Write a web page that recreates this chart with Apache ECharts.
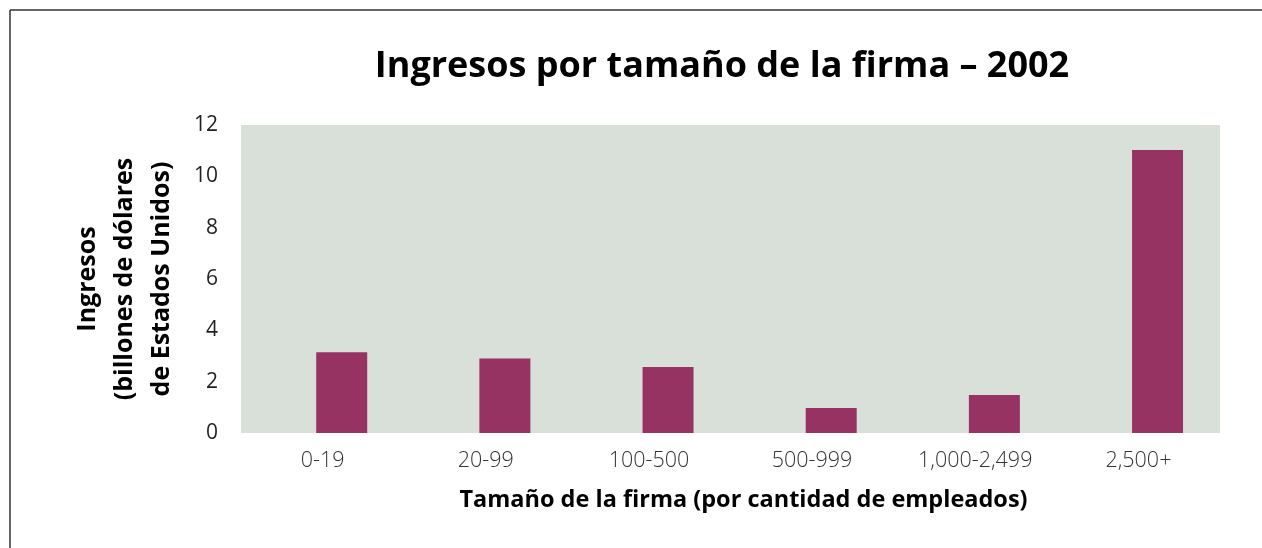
<!DOCTYPE html>
<html>
<head>
<meta charset="utf-8">
<script src="https://cdn.jsdelivr.net/npm/echarts@6/dist/echarts.min.js"></script>
<style>
  html, body { margin: 0; padding: 0; background: #fff; }
  #chart { width: 1262px; height: 548px; }
</style>
</head>
<body>
<div id="chart"></div>
<script>
const categories = ['0-19', '20-99', '100-500', '500-999', '1,000-2,499', '2,500+']
const revenue = [3.15, 2.9, 2.57, 0.97, 1.48, 11.03]
const emptySlot = [null, null, null, null, null, null]
const yTicks = { min: 0, max: 12, interval: 2 }

const font = '"Open Sans", "Noto Sans", sans-serif'

let myChart = echarts.init(document.getElementById('chart'))
myChart.setOption({
  animation: false,
  title: {
    text: 'Ingresos por tamaño de la firma – 2002',
    left: 717,
    textAlign: 'center',
    top: 44,
    textStyle: {
      fontFamily: font,
      fontSize: 36,
      fontWeight: 'bold',
      color: '#000'
    }
  },
  graphic: [
    { type: 'line', shape: { x1: 10, y1: 10, x2: 1262, y2: 10 }, style: { stroke: '#333', lineWidth: 1.5 } },
    { type: 'line', shape: { x1: 10, y1: 10, x2: 10, y2: 548 }, style: { stroke: '#333', lineWidth: 1.5 } }
  ],
  grid: {
    left: 241,
    right: 42,
    top: 125,
    bottom: 115,
    show: true,
    backgroundColor: '#d9e0da',
    borderWidth: 0
  },
  xAxis: {
    type: 'category',
    data: categories,
    name: 'Tamaño de la firma (por cantidad de empleados)',
    nameLocation: 'middle',
    nameGap: 55,
    nameTextStyle: {
      fontFamily: font,
      fontSize: 23.5,
      fontWeight: 'bold',
      color: '#000',
      padding: [0, 0, 0, 26]
    },
    axisLine: { show: false },
    axisTick: { show: false },
    axisLabel: {
      margin: 17,
      fontFamily: font,
      fontSize: 21.5,
      fontWeight: 300,
      color: '#333'
    },
    splitLine: { show: false }
  },
  yAxis: {
    type: 'value',
    min: yTicks.min,
    max: yTicks.max,
    interval: yTicks.interval,
    name: 'Ingresos\n(billones de dólares\nde Estados Unidos)',
    nameLocation: 'middle',
    nameRotate: 90,
    nameGap: 61,
    nameTextStyle: {
      fontFamily: font,
      fontSize: 25,
      fontWeight: 'bold',
      color: '#000',
      lineHeight: 37
    },
    axisLine: { show: false },
    axisTick: { show: false },
    axisLabel: {
      margin: 23,
      fontFamily: font,
      fontSize: 21,
      color: '#231f20'
    },
    splitLine: { show: false }
  },
  series: [{
    type: 'bar',
    name: 'spacer',
    data: emptySlot,
    barWidth: 51,
    barGap: '-25%',
    silent: true
  }, {
    type: 'bar',
    name: 'Ingresos',
    data: revenue,
    barWidth: 51,
    barGap: '-25%',
    itemStyle: {
      color: '#973363'
    }
  }]
})
</script>
</body>
</html>
